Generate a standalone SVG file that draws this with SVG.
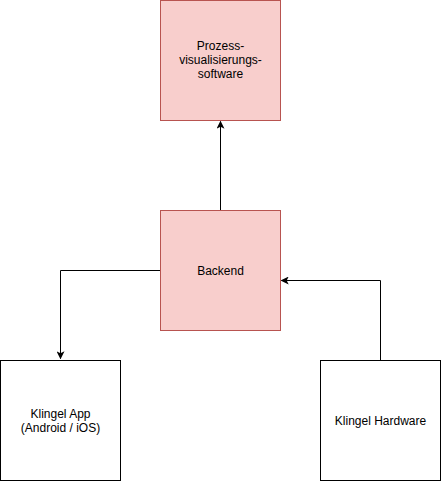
<svg xmlns="http://www.w3.org/2000/svg" width="441" height="482" viewBox="0 0 441 482">
<style>
.red{fill:#f8cecc;stroke:#b85450;stroke-width:1}
.wht{fill:#ffffff;stroke:#000000;stroke-width:1}
.lbl{font-family:"Liberation Sans",Arial,sans-serif;font-size:12px;fill:#000000;text-anchor:middle}
.edge{fill:none;stroke:#000000;stroke-width:1}
</style>
<defs>
<marker id="arr" viewBox="0 0 10 10" refX="9" refY="5" markerWidth="8" markerHeight="8" markerUnits="userSpaceOnUse" orient="auto">
<path d="M0,0 L10,5 L0,10 L2.5,5 Z" fill="#000000"/>
</marker>
</defs>
<rect width="441" height="482" fill="#ffffff"/>
<g id="connectors">
<path class="edge" d="M220.5,210 L220.5,121.5" marker-end="url(#arr)"/>
<path class="edge" d="M160,270.5 L60.5,270.5 L60.5,358.5" marker-end="url(#arr)"/>
<path class="edge" d="M380.5,360 L380.5,280.5 L281.5,280.5" marker-end="url(#arr)"/>
</g>
<g id="prozess">
<rect class="red" x="160.5" y="0.5" width="120" height="120"/>
<text class="lbl" x="220.5" y="50">Prozess-</text>
<text class="lbl" x="220.5" y="64">visualisierungs-</text>
<text class="lbl" x="220.5" y="78">software</text>
</g>
<g id="backend">
<rect class="red" x="160.5" y="210.5" width="120" height="120"/>
<text class="lbl" x="220.5" y="274.5">Backend</text>
</g>
<g id="app">
<rect class="wht" x="0.5" y="360.5" width="120" height="120"/>
<text class="lbl" x="60.5" y="417.5">Klingel App</text>
<text class="lbl" x="60.5" y="431.5">(Android / iOS)</text>
</g>
<g id="hardware">
<rect class="wht" x="320.5" y="360.5" width="120" height="120"/>
<text class="lbl" x="380.5" y="424.5">Klingel Hardware</text>
</g>
</svg>
